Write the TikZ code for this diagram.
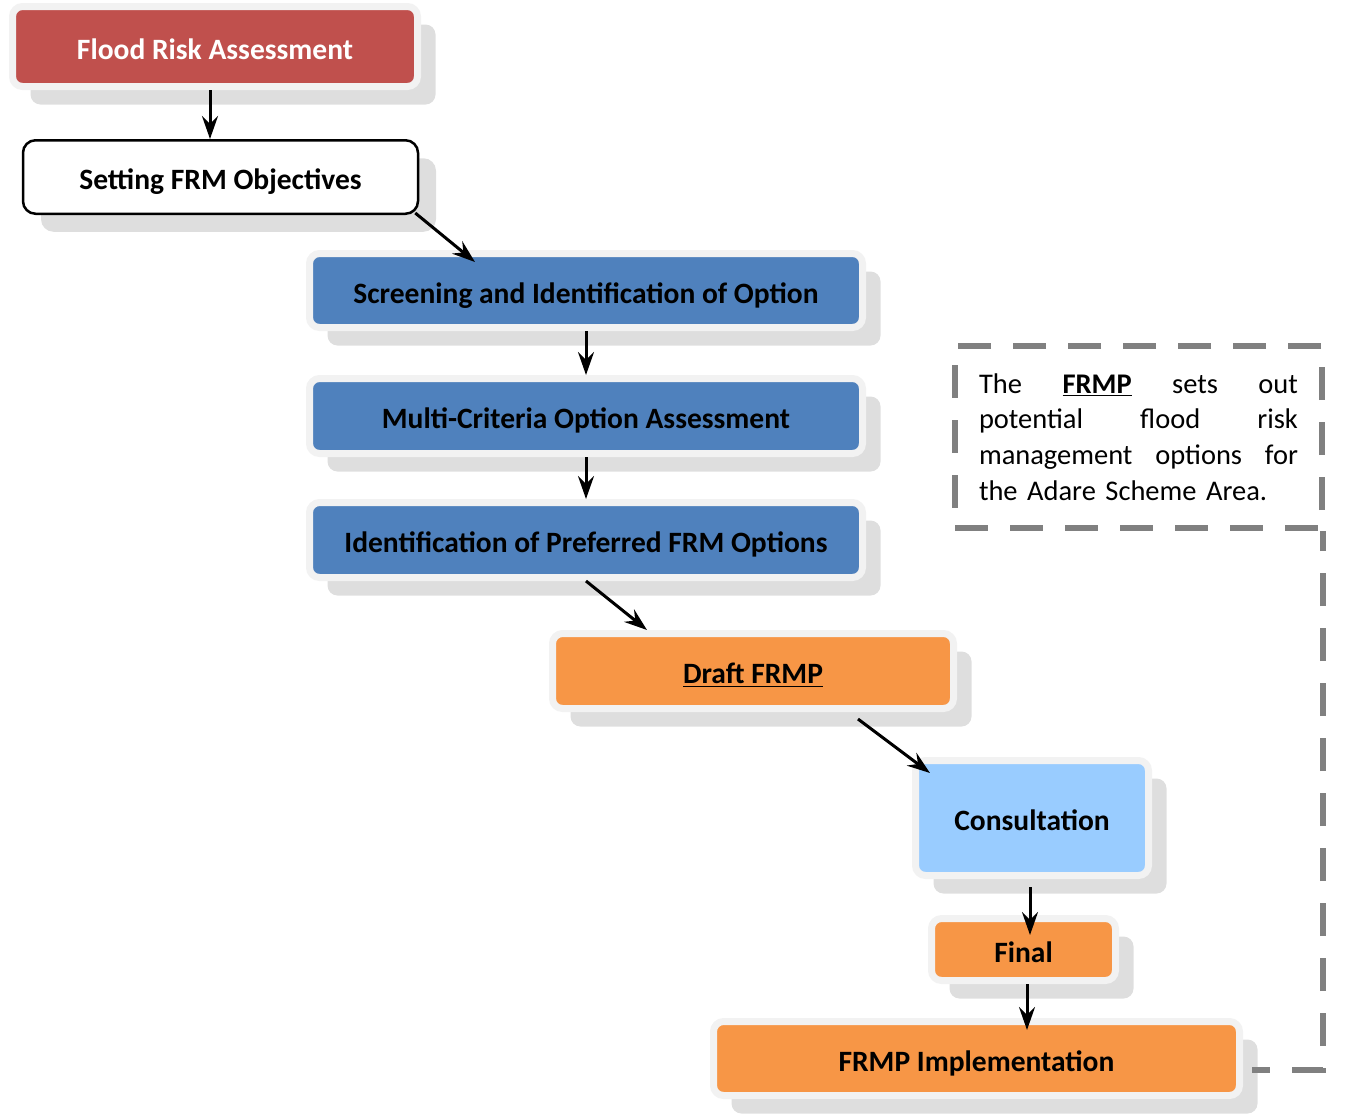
\documentclass[tikz,border=0pt]{standalone}
\usepackage{fontspec}
\setmainfont{Carlito}
\usetikzlibrary{arrows.meta,shadows}
\definecolor{frared}{HTML}{C0504D}
\definecolor{frmblue}{HTML}{4F81BD}
\definecolor{frmorange}{HTML}{F79646}
\definecolor{frmsky}{HTML}{99CCFF}
\tikzset{
  stage/.style={rectangle, rounded corners=0.2cm, draw=black!5, line width=0.14cm,
    inner sep=0pt, text height=16pt, text depth=1.4pt, font=\fontsize{16.8}{20}\selectfont\bfseries,
    drop shadow={shadow xshift=0.36cm, shadow yshift=-0.36cm, fill=black!13, opacity=1}},
  arr/.style={line width=0.06cm, -{Stealth[length=0.46cm,width=0.32cm,inset=0.16cm]}},
  notebox/.style={draw=black!50, line width=0.12cm, dash pattern=on 0.66cm off 0.44cm}
}
\begin{document}
\begin{tikzpicture}
\useasboundingbox (0,0) rectangle (26.9,-22.36);
% Assessment and objectives
\node[stage, fill=frared, text=white, minimum width=8.1cm, minimum height=1.6cm] (fra) at (4.30,-0.93) {Flood Risk Assessment};
\node[stage, draw=black, line width=0.05cm, rounded corners=0.25cm, fill=white, minimum width=7.9cm, minimum height=1.47cm] (sfo) at (4.41,-3.54) {Setting FRM Objectives};
% Option stages
\node[stage, fill=frmblue, minimum width=11.06cm, minimum height=1.48cm] (scr) at (11.72,-5.81) {Screening and Identification of Option};
\node[stage, fill=frmblue, minimum width=11.06cm, minimum height=1.5cm] (mca) at (11.72,-8.32) {Multi-Criteria Option Assessment};
\node[stage, fill=frmblue, minimum width=11.06cm, minimum height=1.5cm] (ipo) at (11.72,-10.80) {Identification of Preferred FRM Options};
% Plan stages
\node[stage, fill=frmorange, minimum width=8.02cm, minimum height=1.5cm] (draft) at (15.06,-13.42) {\underline{Draft FRMP}};
\node[stage, fill=frmsky, minimum width=4.66cm, minimum height=2.3cm] (cons) at (20.64,-16.36) {Consultation};
\node[stage, fill=frmorange, minimum width=3.68cm, minimum height=1.24cm] (final) at (20.47,-18.99) {Final};
\node[stage, fill=frmorange, minimum width=10.52cm, minimum height=1.48cm] (impl) at (19.53,-21.17) {FRMP Implementation};
% Note
\node[notebox, minimum width=7.34cm, minimum height=3.64cm] (note) at (22.77,-8.74) {};
\node[text width=6.38cm, align=left, font=\fontsize{16.2}{20.4}\selectfont] (notetext) at (22.77,-8.74) {%
The\hfill\underline{\textbf{FRMP}}\hfill sets\hfill out\\
potential\hfill flood\hfill risk\\
management\hfill options\hfill for\\
the Adare Scheme Area.};
% Arrows
\draw[arr] ([xshift=-0.1cm]fra.south) -- ([xshift=-0.1cm]fra.south |- sfo.north);
\draw[arr] ([xshift=-0.08cm,yshift=0.04cm]sfo.south east) -- ([xshift=3.38cm,yshift=-0.24cm]scr.north west);
\draw[arr] (scr.south) -- (mca.north);
\draw[arr] (mca.south) -- (ipo.north);
\draw[arr] (ipo.south) -- ([xshift=1.96cm]draft.north west);
\draw[arr] ([xshift=-1.98cm,yshift=-0.14cm]draft.south east) -- ([xshift=0.36cm,yshift=-0.32cm]cons.north west);
\draw[arr, shorten >=-0.4cm] ([xshift=-0.04cm,yshift=-0.16cm]cons.south) -- ([xshift=-0.04cm]cons.south |- final.north);
\draw[arr, shorten >=-0.24cm] ([xshift=0.07cm]final.south) -- ([xshift=0.07cm]final.south |- impl.north);
% Dashed link to note
\draw[notebox, dash phase=0.3cm] ([xshift=0.18cm,yshift=-0.23cm]impl.east) -| ([xshift=-0.04cm]note.south east);
\end{tikzpicture}
\end{document}
